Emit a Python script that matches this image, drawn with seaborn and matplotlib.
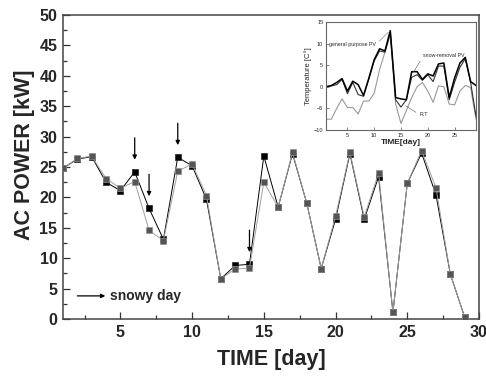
import matplotlib
matplotlib.use("Agg")
import matplotlib.pyplot as plt
import seaborn as sns
import pandas as pd
import numpy as np

# ---------------- data ----------------
days = list(range(1, 30))
power_black = [24.8, 26.3, 26.7, 22.5, 21.1, 24.2, 18.2, 13.1, 26.6, 25.2,
               19.7, 6.6, 8.8, 9.0, 26.8, 18.4, 27.2, 19.0, 8.3, 16.4,
               27.2, 16.4, 23.4, 1.1, 22.3, 27.3, 20.4, 7.4, 0.3]
power_gray = [24.8, 26.4, 26.8, 23.1, 21.5, 22.6, 14.6, 12.9, 24.3, 25.5,
              20.3, 6.6, 8.2, 8.4, 22.5, 18.4, 27.4, 19.0, 8.3, 16.9,
              27.4, 16.8, 24.0, 1.1, 22.3, 27.7, 21.6, 7.4, 0.3]
snowy_days = [6, 7, 9, 14]

temp_general = [0.0, 0.3, 1.0, 1.9, -1.0, 1.3, 0.5, -2.0, 2.0, 6.3,
                8.8, 8.3, 13.0, -2.5, -2.8, -3.0, 3.5, 3.5, 1.7, 3.0,
                2.5, 5.3, 5.5, -2.5, 2.0, 5.5, 6.8, 1.2, 0.3]
temp_snowremoval = [0.0, 0.2, 0.5, 1.7, -1.6, 1.0, -1.8, -2.2, 1.8, 6.0,
                    8.3, 8.0, 12.6, -3.0, -4.7, -3.0, 2.2, 2.8, 1.5, 2.8,
                    1.2, 4.8, 4.8, -3.0, 1.0, 4.5, 6.5, 1.0, -6.8]
temp_rt = [-7.5, -7.5, -5.0, -2.8, -4.8, -4.8, -6.3, -3.3, -3.3, -1.5,
           4.0, 8.0, 12.0, -4.0, -8.5, -5.5, -2.5, 0.0, 1.0, -1.0,
           -3.6, 0.2, 0.0, -4.0, -4.2, -1.0, 0.3, -0.2, -7.5]

x_ticks = [5, 10, 15, 20, 25, 30]
y_ticks = [0, 5, 10, 15, 20, 25, 30, 35, 40, 45, 50]
inset_xticks = [5, 10, 15, 20, 25]
inset_yticks = [-10, -5, 0, 5, 10, 15]

# ---------------- style ----------------
sns.set_theme(style="white")
plt.rcParams['font.family'] = ['Liberation Sans', 'DejaVu Sans']

fig = plt.figure(figsize=(4.86, 3.76), dpi=100)
ax = fig.add_axes([0.1296, 0.1516, 0.8560, 0.8085])

df = pd.DataFrame({"day": days * 2,
                   "power": power_black + power_gray,
                   "series": ["black"] * len(days) + ["gray"] * len(days)})

sns.lineplot(data=df[df.series == "black"], x="day", y="power", ax=ax,
             color="black", lw=0.7, marker="s", markersize=5,
             markerfacecolor="black", markeredgecolor="#222222",
             markeredgewidth=0.5, legend=False, zorder=3)
sns.lineplot(data=df[df.series == "gray"], x="day", y="power", ax=ax,
             color="#a0a0a0", lw=0.7, marker="s", markersize=5,
             markerfacecolor="#555555", markeredgecolor="#909090",
             markeredgewidth=0.5, legend=False, zorder=4)

ax.set_xlim(1, 30)
ax.set_ylim(0, 50)
ax.set_xticks(x_ticks)
ax.set_yticks(y_ticks)
ax.set_xticks(np.arange(2.5, 30, 5), minor=True)
ax.set_yticks(np.arange(2.5, 50, 5), minor=True)
ax.tick_params(axis="both", which="major", direction="in", length=5,
               width=0.9, color="#333333", labelsize=11.5, pad=4,
               bottom=True, left=True)
ax.tick_params(axis="both", which="minor", direction="in", length=3,
               width=0.9, color="#333333", bottom=True, left=True)
for lab in ax.get_xticklabels() + ax.get_yticklabels():
    lab.set_fontweight("bold")
for s in ax.spines.values():
    s.set_color("#444444")
    s.set_linewidth(1.1)

ax.set_xlabel("TIME [day]", fontsize=15.5, fontweight="bold", labelpad=7)
ax.set_ylabel("AC POWER [kW]", fontsize=15.5, fontweight="bold")
ax.yaxis.set_label_coords(-0.068, 0.54)
ax.grid(False)

# snowy day arrows
for d in snowy_days:
    yb = power_black[days.index(d)]
    ax.annotate("", xy=(d, yb + 2.0), xytext=(d, yb + 5.6),
                arrowprops=dict(arrowstyle="-|>", color="black", lw=0.9,
                                mutation_scale=6, shrinkA=0, shrinkB=0))

ax.annotate("", xy=(3.95, 3.8), xytext=(2.0, 3.8),
            arrowprops=dict(arrowstyle="-|>", color="black", lw=0.9,
                            mutation_scale=6, shrinkA=0, shrinkB=0))
ax.text(4.25, 3.8, "snowy day", fontsize=10, fontweight="bold",
        va="center", ha="left")

# ---------------- inset ----------------
ins = fig.add_axes([0.6708, 0.6543, 0.3086, 0.2872])
tdf = pd.DataFrame({"day": days * 3,
                    "temp": temp_general + temp_snowremoval + temp_rt,
                    "kind": ["general"] * 29 + ["snow"] * 29 + ["rt"] * 29})
sns.lineplot(data=tdf[tdf.kind == "rt"], x="day", y="temp", ax=ins,
             color="#999999", lw=0.8, legend=False)
sns.lineplot(data=tdf[tdf.kind == "snow"], x="day", y="temp", ax=ins,
             color="#333333", lw=0.8, legend=False)
sns.lineplot(data=tdf[tdf.kind == "general"], x="day", y="temp", ax=ins,
             color="black", lw=1.1, legend=False)
ins.set_xlim(1, 29)
ins.set_ylim(-10, 15)
ins.set_xticks(inset_xticks)
ins.set_yticks(inset_yticks)
ins.tick_params(axis="both", direction="in", length=2, width=0.5,
                labelsize=4, pad=2, bottom=True, left=True, color="#555555")
for s in ins.spines.values():
    s.set_color("#666666")
    s.set_linewidth(0.8)
ins.set_xlabel("TIME[day]", fontsize=6, fontweight="bold", labelpad=1)
ins.set_ylabel("Temperature [C°]", fontsize=5.5, labelpad=1)
ins.grid(False)

ins.annotate("general purpose PV", xy=(12.6, 12.6), xytext=(1.6, 9.8),
             fontsize=3.8, va="center", ha="left",
             arrowprops=dict(arrowstyle="-", color="#555555", lw=0.4,
                             ls=(0, (2, 1)), shrinkA=0, shrinkB=0,
                             relpos=(1, 0.5)))
ins.annotate("snow-removal PV", xy=(17.3, 3.3), xytext=(19.2, 7.2),
             fontsize=3.8, va="center", ha="left",
             arrowprops=dict(arrowstyle="-", color="#555555", lw=0.4,
                             shrinkA=0, shrinkB=0, relpos=(0, 0.5)))
ins.annotate("R.T", xy=(15.9, -4.4), xytext=(18.4, -6.4),
             fontsize=3.8, va="center", ha="left",
             arrowprops=dict(arrowstyle="-", color="#555555", lw=0.4,
                             shrinkA=0, shrinkB=0, relpos=(0, 0.5)))

fig.savefig("out.png", dpi=100)
